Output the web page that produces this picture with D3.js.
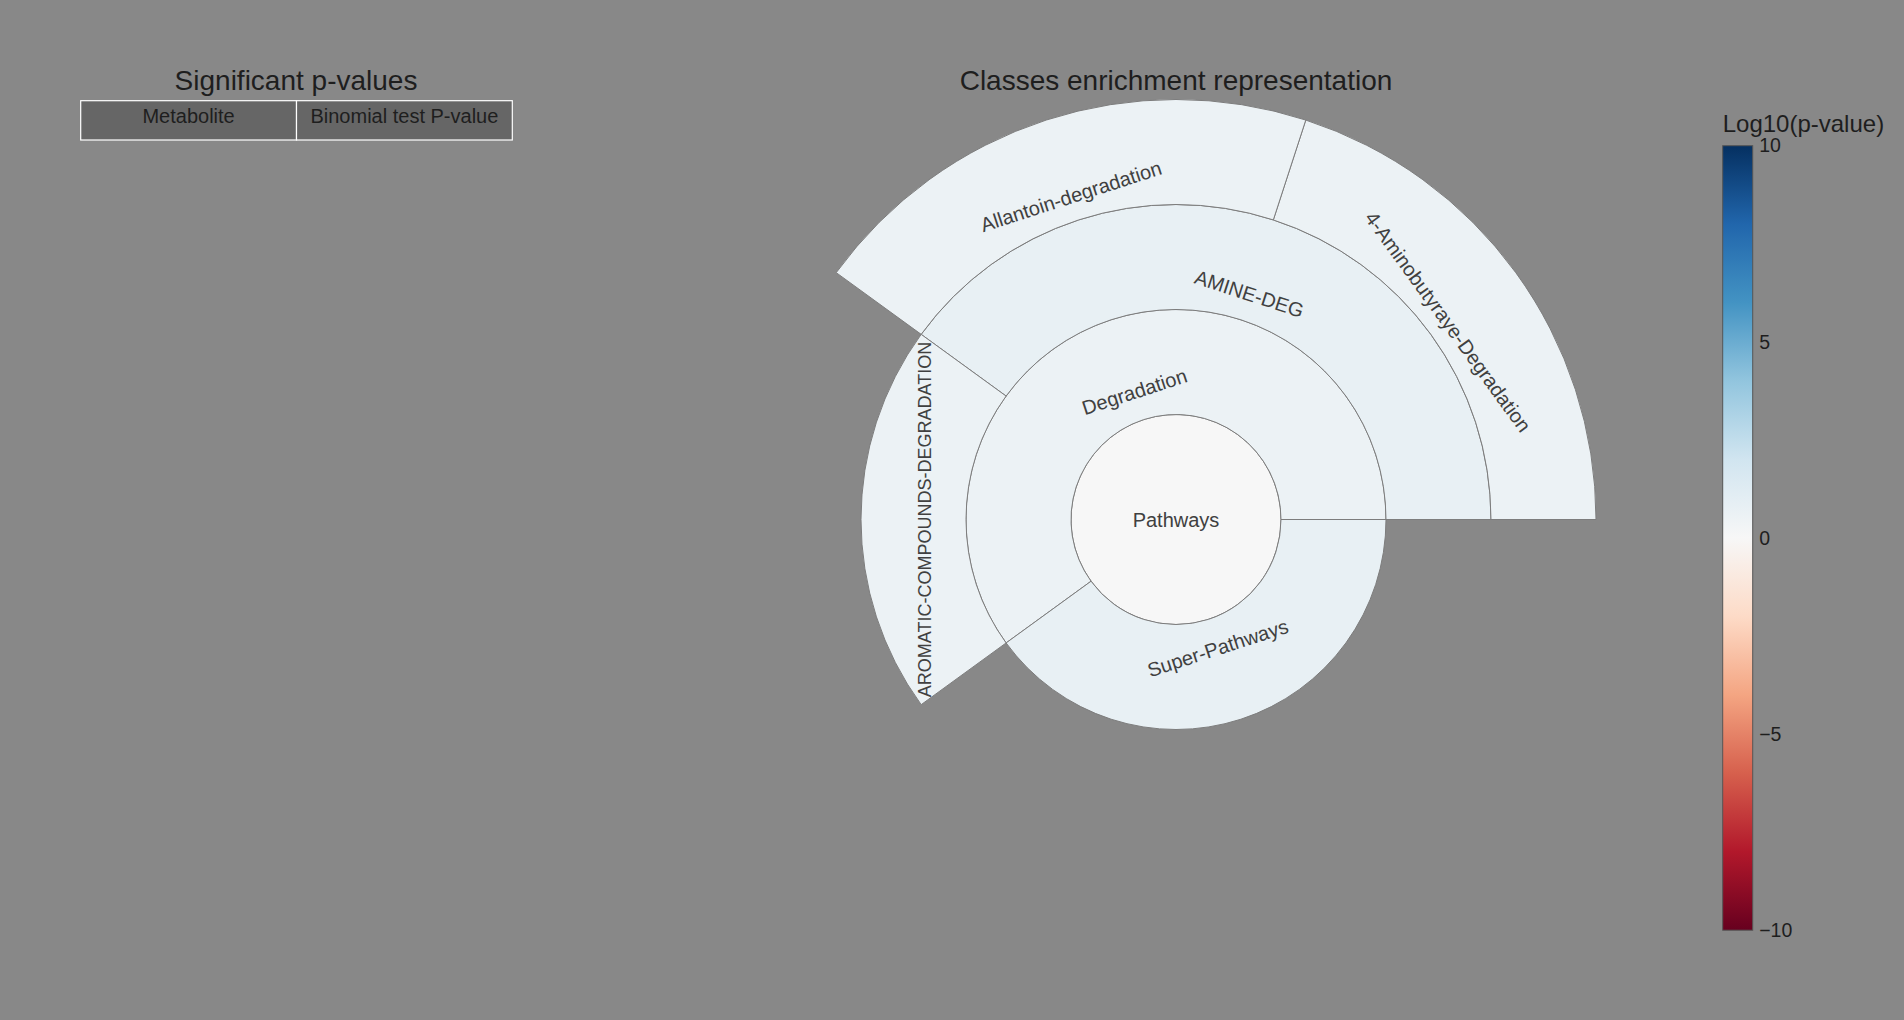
<!DOCTYPE html>
<html>
<head>
<meta charset="utf-8">
<script src="https://cdn.jsdelivr.net/npm/d3@7"></script>
<style>
  html, body { margin: 0; padding: 0; background: #888888; }
  svg { display: block; }
  text { font-family: "Liberation Sans", Arial, sans-serif; }
</style>
</head>
<body>
<svg id="chart" width="1904" height="1020"></svg>
<script>
// ---------------- data ----------------
const nodeLabels  = ["Pathways", "Degradation", "Super-Pathways", "AMINE-DEG",
                     "AROMATIC-COMPOUNDS-DEGRADATION", "4-Aminobutyraye-Degradation", "Allantoin-degradation"];
const nodeParents = ["", "Pathways", "Pathways", "Degradation",
                     "Degradation", "AMINE-DEG", "AMINE-DEG"];
const nodeCounts  = [5, 3, 2, 2, 1, 1, 1];
const nodeLog10P  = [0, 0.6, 0.8, 0.8, 0.6, 0.6, 0.6];

const tableColumns = ["Metabolite", "Binomial test P-value"];
const colorbarTicks = [-10, -5, 0, 5, 10];
const colorDomain = [-10, 10];

// ---------------- layout ----------------
const W = 1904, H = 1020;
const cx = 1176, cy = 519.5, ringW = 105;
// radial position of label centres (px from centre) and font sizes, as drawn by the original
const labelLayout = {
  "Pathways": {r: 0, size: 20},
  "Degradation": {r: 134.5, size: 20},
  "Super-Pathways": {r: 135, size: 20},
  "AMINE-DEG": {r: 237.5, size: 20},
  "AROMATIC-COMPOUNDS-DEGRADATION": {r: 251.5, size: 18},
  "4-Aminobutyraye-Degradation": {r: 336.5, size: 20},
  "Allantoin-degradation": {r: 340, size: 20}
};

const svg = d3.select("#chart");
svg.append("rect").attr("width", W).attr("height", H).attr("fill", "#888888");

// ColorBrewer RdBu, linearly interpolated (red = -10, blue = +10)
const rdbu = d3.schemeRdBu[11].slice();
const colorStops = d3.range(rdbu.length).map(i => colorDomain[0] + i * (colorDomain[1] - colorDomain[0]) / (rdbu.length - 1));
const color = d3.scaleLinear().domain(colorStops).range(rdbu).interpolate(d3.interpolateRgb).clamp(true);

// ---------------- table ----------------
svg.append("text").attr("x", 296).attr("y", 90).attr("text-anchor", "middle")
  .attr("font-size", 28).attr("fill", "#1e1e1e").text("Significant p-values");

const tableX = d3.scaleBand().domain(tableColumns).range([80.7, 512.3]);
const tg = svg.append("g");
tg.selectAll("rect").data(tableColumns).join("rect")
  .attr("x", d => tableX(d)).attr("y", 100.7)
  .attr("width", tableX.bandwidth()).attr("height", 39.3)
  .attr("fill", "#666666").attr("stroke", "#ffffff").attr("stroke-width", 1.2);
tg.selectAll("text").data(tableColumns).join("text")
  .attr("x", d => tableX(d) + tableX.bandwidth() / 2).attr("y", 122.7)
  .attr("text-anchor", "middle").attr("font-size", 20).attr("fill", "#1e1e1e")
  .text(d => d);

// ---------------- sunburst ----------------
svg.append("text").attr("x", cx).attr("y", 89.5).attr("text-anchor", "middle")
  .attr("font-size", 28).attr("fill", "#1e1e1e").text("Classes enrichment representation");

const rows = nodeLabels.map((n, i) => ({name: n, parent: nodeParents[i], count: nodeCounts[i], logp: nodeLog10P[i]}));
const leafNames = new Set(nodeLabels.filter(n => !nodeParents.includes(n)));
const root = d3.stratify().id(d => d.name).parentId(d => d.parent || null)(rows);
root.sum(d => leafNames.has(d.name) ? d.count : 0);
d3.partition().size([1, root.height + 1])(root);

const rScale = d3.scaleLinear().domain([0, root.height + 1]).range([0, ringW * (root.height + 1)]);
const angleOf = x => Math.PI / 2 - 2 * Math.PI * x; // counter-clockwise from east
const arc = d3.arc()
  .startAngle(d => angleOf(d.x0)).endAngle(d => angleOf(d.x1))
  .innerRadius(d => rScale(d.y0)).outerRadius(d => rScale(d.y1));

const sg = svg.append("g").attr("transform", `translate(${cx},${cy})`);
const nodes = root.descendants();
sg.selectAll("path").data(nodes).join("path")
  .attr("d", arc)
  .attr("fill", d => color(d.data.logp))
  .attr("stroke", "#7d7d7d").attr("stroke-width", 1);

sg.selectAll("text").data(nodes).join("text")
  .attr("transform", d => {
    const lay = labelLayout[d.data.name];
    if (d.depth === 0) return "translate(0,0)";
    const theta = 2 * Math.PI * (d.x0 + d.x1) / 2;
    const x = lay.r * Math.cos(theta), y = -lay.r * Math.sin(theta);
    let rot = Math.round((90 - theta * 180 / Math.PI) * 1000) / 1000;
    while (rot > 90) rot -= 180;
    while (rot < -90) rot += 180;
    return `translate(${x},${y}) rotate(${rot})`;
  })
  .attr("dy", "0.36em")
  .attr("text-anchor", "middle")
  .attr("font-size", d => labelLayout[d.data.name].size)
  .attr("fill", "#404040")
  .text(d => d.data.name);

// ---------------- colorbar ----------------
const barX = 1722.7, barW = 30, barTop = 145.7, barBot = 930.2;
const defs = svg.append("defs");
const grad = defs.append("linearGradient").attr("id", "cbar")
  .attr("x1", 0).attr("y1", 1).attr("x2", 0).attr("y2", 0);
colorStops.forEach((v, i) => {
  grad.append("stop")
    .attr("offset", (v - colorDomain[0]) / (colorDomain[1] - colorDomain[0]))
    .attr("stop-color", rdbu[i]);
});
svg.append("rect").attr("x", barX).attr("y", barTop).attr("width", barW).attr("height", barBot - barTop)
  .attr("fill", "url(#cbar)").attr("stroke", "#555555").attr("stroke-width", 1);

const cbScale = d3.scaleLinear().domain(colorDomain).range([barBot, barTop]);
const cbAxis = svg.append("g").attr("transform", `translate(${barX + barW},0)`)
  .call(d3.axisRight(cbScale).tickValues(colorbarTicks).tickSize(0).tickPadding(6.5));
cbAxis.select(".domain").remove();
cbAxis.selectAll("text").attr("font-size", 19.5).attr("fill", "#1e1e1e")
  .attr("font-family", "'Liberation Sans', Arial, sans-serif");

svg.append("text").attr("x", barX).attr("y", 132).attr("font-size", 24).attr("fill", "#1e1e1e")
  .text("Log10(p-value)");
</script>
</body>
</html>
